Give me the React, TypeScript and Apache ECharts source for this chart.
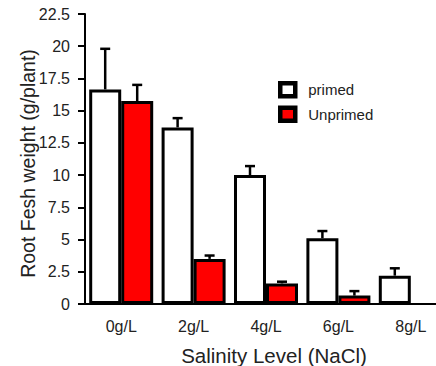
import React, { useEffect, useRef } from "react";
import * as echarts from "echarts";

const categories = ["0g/L", "2g/L", "4g/L", "6g/L", "8g/L"];
const primed = [16.65, 13.7, 10.0, 5.1, 2.2];
const primedErr = [3.15, 0.72, 0.7, 0.56, 0.57];
const unprimed: (number | null)[] = [15.75, 3.5, 1.6, 0.65, null];
const unprimedErr: (number | null)[] = [1.25, 0.26, 0.13, 0.35, null];
const yTicks = { min: 0, max: 22.5, interval: 2.5 };

const FONT = "Liberation Sans, Arial, sans-serif";
const BAR_W = 32;

export default function App() {
  const ref = useRef<HTMLDivElement>(null);
  useEffect(() => {
    if (!ref.current) return;
    const chart = echarts.init(ref.current, null, { renderer: "svg" });
    const errData: any[] = [];
    primed.forEach((v, i) => errData.push([i, v, primedErr[i], 0]));
    unprimed.forEach((v, i) => {
      if (v != null && unprimedErr[i] != null) errData.push([i, v, unprimedErr[i], 1]);
    });
    chart.setOption({
      animation: false,
      textStyle: { fontFamily: FONT },
      grid: {
        left: 85,
        top: 14,
        width: 362,
        height: 290,
        containLabel: false,
        outerBoundsMode: "none",
      },
      legend: {
        orient: "vertical",
        left: 273,
        top: 76,
        itemWidth: 15,
        itemHeight: 13,
        itemGap: 7,
        icon: "rect",
        textStyle: { fontSize: 15, color: "#222", fontFamily: FONT, padding: [0, 0, 0, 8] },
        data: [
          { name: "primed", itemStyle: { color: "#fff", borderColor: "#000", borderWidth: 4.5 } },
          { name: "Unprimed", itemStyle: { color: "#ff0000", borderColor: "#000", borderWidth: 4.5 } },
        ],
      },
      xAxis: {
        type: "category",
        data: categories,
        name: "Salinity Level (NaCl)",
        nameLocation: "middle",
        nameGap: 41,
        nameMoveOverlap: false,
        nameTextStyle: { fontSize: 20.5, color: "#222", fontFamily: FONT, padding: [0, 0, 0, 16] },
        axisLine: { lineStyle: { color: "#000", width: 2 } },
        axisTick: { alignWithLabel: true, length: 5, lineStyle: { color: "#000", width: 2 } },
        axisLabel: { fontSize: 16, color: "#222", margin: 14, fontFamily: FONT },
      },
      yAxis: {
        type: "value",
        min: yTicks.min,
        max: yTicks.max,
        interval: yTicks.interval,
        name: "Root Fesh weight (g/plant)",
        nameLocation: "middle",
        nameGap: 47,
        nameMoveOverlap: false,
        nameTextStyle: { fontSize: 19.5, color: "#222", fontFamily: FONT, padding: [0, 9, 0, 0] },
        splitLine: { show: false },
        axisLine: { show: true, lineStyle: { color: "#000", width: 2 } },
        axisTick: { show: true, length: 7, lineStyle: { color: "#000", width: 2 } },
        axisLabel: { fontSize: 16, color: "#222", margin: 15, fontFamily: FONT },
      },
      series: [
        {
          name: "primed",
          type: "bar",
          data: primed,
          barWidth: BAR_W,
          barGap: "0%",
          itemStyle: { color: "#fff", borderColor: "#000", borderWidth: 3 },
        },
        {
          name: "Unprimed",
          type: "bar",
          data: unprimed,
          barWidth: BAR_W,
          barGap: "0%",
          itemStyle: { color: "#ff0000", borderColor: "#000", borderWidth: 3 },
        },
        {
          name: "err",
          type: "custom",
          z: 5,
          data: errData,
          renderItem: (params: any, api: any) => {
            const i = api.value(0);
            const v = api.value(1);
            const e = api.value(2);
            const s = api.value(3);
            const base = api.coord([i, v]);
            const top = api.coord([i, v + e]);
            const x = base[0] + (s === 0 ? -BAR_W / 2 : BAR_W / 2);
            const style = { stroke: "#000", lineWidth: 2.5 };
            return {
              type: "group",
              children: [
                { type: "line", shape: { x1: x, y1: base[1], x2: x, y2: top[1] }, style },
                { type: "line", shape: { x1: x - 5, y1: top[1], x2: x + 5, y2: top[1] }, style },
              ],
            };
          },
        },
      ],
    });
    return () => chart.dispose();
  }, []);
  return (
    <div
      ref={ref}
      style={{ position: "absolute", left: 0, top: 0, width: 436, height: 366, background: "#fff" }}
    />
  );
}
